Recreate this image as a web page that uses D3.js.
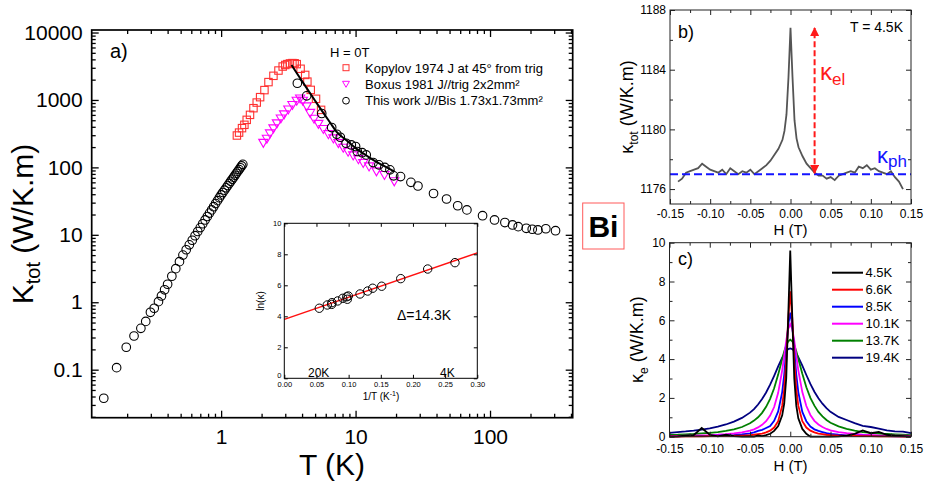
<!DOCTYPE html>
<html>
<head>
<meta charset="utf-8">
<script src="https://cdn.jsdelivr.net/npm/d3@7"></script>
<style>
body { margin: 0; background: #fff; }
svg text { font-family: "Liberation Sans", Arial, Helvetica, sans-serif; }
</style>
</head>
<body>
<svg id="fig" width="926" height="484"></svg>
<script>
// ---- panel a : K_tot(T) ----
const kopT = [1.31,1.36,1.43,1.49,1.55,1.64,1.74,1.84,1.95,2.1,2.25,2.45,2.67,2.87,3.0,3.11,3.25,3.39,3.52,3.65,3.9,4.22,4.38,4.64,5.08,5.54];
const kopK = [297,328,382,428,507,601,755,915,1100,1400,1840,2280,2730,3130,3300,3400,3480,3520,3500,3400,2900,2350,1870,1410,1040,713];

const boxT = [2.06,2.19,2.31,2.45,2.6,2.78,2.94,3.16,3.39,3.65,3.87,4.05,4.33,4.59,4.91,5.29,5.76,6.28,6.84,7.45,8.1,8.8,9.6,10.5,11.4,12.6,14.3,16.4,19.4];
const boxK = [230,265,318,378,448,530,610,720,840,970,1050,970,800,640,525,440,370,310,268,228,195,170,150,132,116,103,87,77,62];

const workT = [0.134,0.167,0.197,0.225,0.253,0.275,0.298,0.318,0.342,0.36,0.38,0.40,0.43,0.46,0.49,0.52,0.55,0.58,0.61,0.64,0.67,0.70,0.73,0.76,0.79,0.82,0.85,0.88,0.91,0.94,0.97,1.00,1.03,1.06,1.09,1.12,1.15,1.18,1.21,1.24,1.27,1.30,1.33,1.36,1.39,1.42,1.45,
  3.69,4.33,5.6,6.64,7.25,7.7,8.5,9.3,10,10.3,11.2,12,13.5,14.9,16.5,18,19.2,21.6,25.8,29.1,38,47.5,57.5,67.3,88,108,129,147,162,186,206,227,260,307];
const workK = [0.0377,0.107,0.215,0.316,0.41,0.52,0.71,0.815,1.02,1.24,1.53,1.85,2.43,3.15,4.0,5.0,6.0,7.1,8.3,9.7,11.2,12.8,14.6,16.6,18.7,21.0,23.4,26.1,29.1,32.1,35.5,39.0,42.4,45.9,49.7,53.7,57.8,62.2,66.8,71.5,76.5,81.7,87.1,92.7,98.6,105,111,
  1770,1150,630,390,310,280,228,215,204,172,165,153,118,109,100,92,75,73,60,53,41,34,27,23.4,19.2,16.6,15.2,14.0,13.2,12.5,12.1,11.8,12.3,11.5];

const fitT = [3.34,3.7,4.28,5,5.56,6.5,7.2,8.5,10,12,13.5,16,19.4];
const fitK = [3300,2410,1550,975,713,455,340,255,193,151,129,107,87];

const mainTicksX = [1, 10, 100];
const mainLabelsX = ["1", "10", "100"];
const mainTicksY = [0.1, 1, 10, 100, 1000, 10000];
const mainLabelsY = ["0.1", "1", "10", "100", "1000", "10000"];
const legendA = ["Kopylov 1974 J at 45\u00b0 from trig", "Boxus 1981 J//trig 2x2mm\u00b2", "This work J//Bis 1.73x1.73mm\u00b2"];

// inset : ln(kappa) vs 1/T
const insX = [0.0544,0.0668,0.0737,0.074,0.083,0.0908,0.097,0.0995,0.098,0.1177,0.1296,0.1374,0.1514,0.181,0.2229,0.2653];
const insY = [4.52,4.73,4.77,4.88,4.99,5.16,5.26,5.31,5.10,5.44,5.63,5.81,5.94,6.43,7.05,7.46];
const insLineX = [0, 0.3];
const insLineY = [3.8, 8.09];
const insTicksX = [0,0.05,0.10,0.15,0.20,0.25,0.30];
const insTicksY = [0,2,4,6,8,10];

// ---- panel b : K_tot(H) at 4.5K ----
const bH = [-0.14,-0.135,-0.13,-0.125,-0.12,-0.115,-0.11,-0.105,-0.10,-0.095,-0.09,-0.085,-0.08,-0.075,-0.07,-0.065,-0.06,-0.055,-0.05,-0.045,-0.04,-0.035,-0.03,-0.025,-0.02,-0.015,-0.01,-0.0075,-0.005,-0.0025,0,0.0025,0.005,0.0075,0.01,0.015,0.02,0.025,0.03,0.035,0.04,0.045,0.05,0.055,0.06,0.065,0.07,0.075,0.08,0.085,0.09,0.095,0.10,0.105,0.11,0.115,0.12,0.125,0.13,0.135,0.14];
const bK = [1176.5,1176.7,1177.1,1177.2,1177.3,1177.4,1177.7,1177.5,1177.3,1177.2,1177.1,1177.3,1177.0,1177.4,1177.2,1177.0,1177.2,1177.1,1177.3,1177.0,1177.2,1177.4,1177.6,1177.9,1178.3,1178.7,1179.3,1179.9,1181.0,1183.5,1186.8,1183.5,1180.6,1179.4,1178.8,1178.2,1177.7,1177.4,1177.1,1176.9,1176.9,1176.7,1176.8,1176.6,1176.9,1177.0,1177.1,1177.2,1177.1,1177.5,1177.4,1177.6,1177.3,1177.4,1177.2,1177.1,1177.0,1177.2,1176.8,1176.5,1176.0];
const bPhonon = 1177;
const bArrowH = 0.03, bArrowTop = 1186.8;
const hTicks = [-0.15,-0.10,-0.05,0,0.05,0.10,0.15];
const hMinor = [-0.125,-0.075,-0.025,0.025,0.075,0.125];
const bTicksY = [1176,1180,1184,1188];
const bMinorY = [1178,1182,1186];

// ---- panel c : K_e(H) ----
const cH = [-0.15,-0.14,-0.13,-0.12,-0.11,-0.10,-0.09,-0.08,-0.07,-0.06,-0.05,-0.045,-0.04,-0.035,-0.03,-0.025,-0.02,-0.015,-0.01,-0.0075,-0.005,-0.0025,0,0.0025,0.005,0.0075,0.01,0.015,0.02,0.025,0.03,0.035,0.04,0.045,0.05,0.06,0.07,0.08,0.09,0.10,0.11,0.12,0.13,0.14,0.15];
const c194 = [0.20,0.24,0.27,0.31,0.36,0.43,0.52,0.63,0.78,0.97,1.24,1.42,1.66,1.94,2.28,2.68,3.14,3.62,4.08,4.27,4.42,4.52,4.55,4.52,4.43,4.29,4.10,3.66,3.18,2.72,2.32,1.98,1.70,1.47,1.28,1.02,0.86,0.70,0.56,0.50,0.42,0.33,0.27,0.26,0.19];
const c137 = [0.09,0.10,0.12,0.14,0.17,0.20,0.24,0.30,0.38,0.50,0.69,0.83,1.00,1.23,1.54,1.95,2.50,3.20,4.00,4.39,4.71,4.92,5.00,4.92,4.72,4.40,4.02,3.24,2.55,2.00,1.60,1.28,1.05,0.86,0.72,0.53,0.40,0.31,0.24,0.20,0.16,0.14,0.12,0.10,0.08];
const c101 = [0.04,0.04,0.05,0.06,0.07,0.08,0.10,0.13,0.17,0.22,0.31,0.38,0.48,0.61,0.80,1.09,1.53,2.26,3.42,4.17,4.94,5.56,5.80,5.56,4.94,4.17,3.42,2.30,1.58,1.12,0.82,0.63,0.50,0.40,0.33,0.24,0.18,0.14,0.11,0.09,0.07,0.06,0.05,0.05,0.04];
const c85 = [0.02,0.02,0.03,0.03,0.04,0.04,0.05,0.06,0.08,0.12,0.17,0.22,0.30,0.35,0.45,0.55,0.82,1.30,2.30,3.20,4.43,5.76,6.40,5.76,4.43,3.20,2.30,1.28,0.80,0.52,0.38,0.30,0.24,0.18,0.14,0.10,0.07,0.06,0.05,0.04,0.03,0.03,0.02,0.02,0.02];
const c66 = [0.01,0.01,0.02,0.02,0.02,0.03,0.03,0.04,0.05,0.06,0.08,0.10,0.13,0.16,0.22,0.31,0.47,0.80,1.60,2.44,3.90,6.09,7.50,6.09,3.90,2.44,1.60,0.80,0.47,0.31,0.22,0.16,0.13,0.10,0.08,0.06,0.05,0.04,0.03,0.03,0.02,0.02,0.02,0.01,0.01];
const c45 = [0.00,0.02,0.05,0.08,0.45,0.10,0.02,0.10,0.03,0.00,0.02,0.00,0.06,0.03,0.08,0.15,0.30,0.55,1.10,1.70,3.00,6.20,9.60,6.20,3.00,1.60,0.95,0.40,0.15,0.00,0.00,0.00,0.00,0.00,0.00,0.02,0.05,0.15,0.32,0.18,0.25,0.10,0.05,0.03,0.00];
const cNames = ["4.5K","6.6K","8.5K","10.1K","13.7K","19.4K"];
const cSeries = [c45, c66, c85, c101, c137, c194];
const cColors = ["#000000","#ff0000","#0000ff","#ff00ff","#008000","#000080"];
const cTicksY = [0,2,4,6,8,10];
const cMinorY = [1,3,5,7,9];

const svg = d3.select('#fig');

// tick boxes: inward ticks on the four sides, labels on bottom and left
function axesBox(g, x, y, o) {
  const [yb, yt] = y.range(), [xl, xr] = x.range();
  const put = (axis, tr, vals, size, fmt, pad, fs) => {
    const a = g.append('g').attr('transform', tr)
      .call(axis.tickValues(vals).tickSize(-size).tickPadding(pad || 3)
        .tickFormat(fmt || (() => '')));
    a.select('.domain').remove();
    a.attr('font-family', null).attr('font-size', fs || null);
    a.selectAll('line').attr('stroke', o.color).attr('stroke-width', o.tw);
    a.selectAll('text').attr('fill', '#000');
    return a;
  };
  if (o.xMinor) {
    put(d3.axisBottom(x), `translate(0,${yb})`, o.xMinor, o.minor);
    put(d3.axisTop(x), `translate(0,${yt})`, o.xMinor, o.minor);
  }
  if (o.yMinor) {
    put(d3.axisLeft(y), `translate(${xl},0)`, o.yMinor, o.minor);
    put(d3.axisRight(y), `translate(${xr},0)`, o.yMinor, o.minor);
  }
  put(d3.axisBottom(x), `translate(0,${yb})`, o.xMajor, o.major, o.xFmt, o.xPad, o.fs);
  put(d3.axisTop(x), `translate(0,${yt})`, o.xMajor, o.major);
  const ly = put(d3.axisLeft(y), `translate(${xl},0)`, o.yMajor, o.major, o.yFmt, o.yPad, o.fsY || o.fs);
  put(d3.axisRight(y), `translate(${xr},0)`, o.yMajor, o.major);
  g.append('rect').attr('x', xl).attr('y', yt).attr('width', xr - xl).attr('height', yb - yt)
    .attr('fill', 'none').attr('stroke', o.color).attr('stroke-width', o.sw);
  return ly;
}

function logMinor(dom) {
  const out = [];
  for (let k = -2; k <= 4; k++)
    for (let m = 2; m <= 9; m++) {
      const v = m * Math.pow(10, k);
      if (v > dom[0] && v < dom[1]) out.push(v);
    }
  return out;
}

const tri = 'M-4.6,-3.6L4.6,-3.6L0,4.4Z';

// ================= panel a =================
const xA = d3.scaleLog().domain([0.109, 412]).range([91.7, 572.7]);
const yA = d3.scaleLog().domain([0.0194, 10900]).range([417.7, 30]);
const gA = svg.append('g');

gA.append('g').selectAll('rect').data(d3.zip(kopT, kopK)).join('rect')
  .attr('x', d => xA(d[0]) - 3.7).attr('y', d => yA(d[1]) - 3.7)
  .attr('width', 7.4).attr('height', 7.4)
  .attr('fill', 'none').attr('stroke', '#ff3030').attr('stroke-width', 1.1);

gA.append('g').selectAll('path').data(d3.zip(boxT, boxK)).join('path')
  .attr('transform', d => `translate(${xA(d[0])},${yA(d[1])})`).attr('d', tri)
  .attr('fill', 'none').attr('stroke', '#ff00ff').attr('stroke-width', 1.1);

gA.append('g').selectAll('circle').data(d3.zip(workT, workK)).join('circle')
  .attr('cx', d => xA(d[0])).attr('cy', d => yA(d[1])).attr('r', 4.3)
  .attr('fill', 'none').attr('stroke', '#000').attr('stroke-width', 1.1);

gA.append('path').datum(d3.zip(fitT, fitK))
  .attr('d', d3.line().x(d => xA(d[0])).y(d => yA(d[1])).curve(d3.curveMonotoneX))
  .attr('fill', 'none').attr('stroke', '#000').attr('stroke-width', 2);

axesBox(gA, xA, yA, {
  xMajor: mainTicksX, xMinor: logMinor(xA.domain()),
  yMajor: mainTicksY, yMinor: logMinor(yA.domain()),
  major: 7, minor: 4, color: '#000', tw: 1.3, sw: 1.7,
  xFmt: (d, i) => mainLabelsX[i], yFmt: (d, i) => mainLabelsY[i],
  xPad: 11, yPad: 9, fs: 21
});

gA.append('text').attr('x', 110).attr('y', 58).attr('font-size', 20).text('a)');

// legend
const legA = gA.append('g').attr('font-size', 13);
legA.append('text').attr('x', 330).attr('y', 56.7).text('H = 0T');
legA.append('rect').attr('x', 343).attr('y', 64.7).attr('width', 6).attr('height', 6)
  .attr('fill', 'none').attr('stroke', '#ff3030');
legA.append('path').attr('transform', 'translate(346,84) scale(0.75)').attr('d', tri)
  .attr('fill', 'none').attr('stroke', '#ff00ff').attr('stroke-width', 1.3);
legA.append('circle').attr('cx', 346).attr('cy', 100.7).attr('r', 3.4)
  .attr('fill', 'none').attr('stroke', '#000');
legendA.forEach((s, i) => legA.append('text').attr('x', 365).attr('y', 72.7 + i * 16.2).text(s));

// axis titles
gA.append('text').attr('x', 332).attr('y', 475).attr('text-anchor', 'middle')
  .attr('font-size', 30).text('T (K)');
const tA = gA.append('text').attr('transform', 'translate(33,224) rotate(-90)')
  .attr('text-anchor', 'middle').attr('font-size', 30);
tA.append('tspan').text('K');
tA.append('tspan').attr('font-size', 20).attr('dy', 7).text('tot');
tA.append('tspan').attr('dy', -7).text(' (W/K.m)');

// inset
const xI = d3.scaleLinear().domain([0, 0.3]).range([284.3, 477.3]);
const yI = d3.scaleLinear().domain([0, 10]).range([378.3, 223.3]);
const gI = svg.append('g');
gI.append('rect').attr('x', 284.3).attr('y', 223.3).attr('width', 193).attr('height', 155).attr('fill', '#fff');
gI.append('path').datum(d3.zip(insLineX, insLineY))
  .attr('d', d3.line().x(d => xI(d[0])).y(d => yI(d[1])))
  .attr('stroke', '#ff1010').attr('stroke-width', 1.5);
gI.append('g').selectAll('circle').data(d3.zip(insX, insY)).join('circle')
  .attr('cx', d => xI(d[0])).attr('cy', d => yI(d[1])).attr('r', 4.2)
  .attr('fill', 'none').attr('stroke', '#000').attr('stroke-width', 1);
const insLeft = axesBox(gI, xI, yI, {
  xMajor: insTicksX, yMajor: insTicksY, major: 3.5, color: '#000', tw: 1, sw: 1,
  xFmt: d => d.toFixed(2), yFmt: d => String(d), xPad: 3, yPad: 3, fs: 7.5
});
// lift the "0" of the inset's y axis clear of the "0.00" below it
insLeft.selectAll('text').filter(d => d === 0).attr('dy', '-0.1em');
gI.append('text').attr('x', 397).attr('y', 320).attr('font-size', 14).text('\u0394=14.3K');
gI.append('text').attr('x', 308).attr('y', 376.5).attr('font-size', 12).text('20K');
gI.append('text').attr('x', 440).attr('y', 376.5).attr('font-size', 12).text('4K');
const tI = gI.append('text').attr('x', 381).attr('y', 399.5).attr('text-anchor', 'middle').attr('font-size', 10);
tI.append('tspan').text('1/T (K');
tI.append('tspan').attr('font-size', 7).attr('dy', -4).text('-1');
tI.append('tspan').attr('dy', 4).text(')');
gI.append('text').attr('transform', 'translate(264,301) rotate(-90)')
  .attr('text-anchor', 'middle').attr('font-size', 10).text('ln(\u03ba)');

// Bi label
svg.append('rect').attr('x', 582.7).attr('y', 203).attr('width', 41.3).attr('height', 46)
  .attr('fill', '#fff').attr('stroke', '#ff5a5a').attr('stroke-width', 1);
svg.append('text').attr('x', 603.4).attr('y', 236.7).attr('text-anchor', 'middle')
  .attr('font-size', 30).attr('font-weight', 'bold').text('Bi');

// ================= panel b =================
const xB = d3.scaleLinear().domain([-0.15, 0.15]).range([670, 911]);
const yB = d3.scaleLinear().domain([1175, 1188]).range([204, 10]);
const gB = svg.append('g');

gB.append('path').datum(d3.zip(bH, bK))
  .attr('d', d3.line().x(d => xB(d[0])).y(d => yB(d[1])))
  .attr('fill', 'none').attr('stroke', '#555').attr('stroke-width', 1.8);
gB.append('line').attr('x1', xB(-0.15)).attr('x2', xB(0.15))
  .attr('y1', yB(bPhonon)).attr('y2', yB(bPhonon))
  .attr('stroke', '#1414ff').attr('stroke-width', 2).attr('stroke-dasharray', '8,4');

const defs = svg.append('defs');
defs.append('marker').attr('id', 'ah').attr('viewBox', '0 0 10 10').attr('refX', 9).attr('refY', 5)
  .attr('markerWidth', 9).attr('markerHeight', 9).attr('markerUnits', 'userSpaceOnUse')
  .attr('orient', 'auto-start-reverse')
  .append('path').attr('d', 'M0,0L10,5L0,10Z').attr('fill', '#ff1a1a');
gB.append('line').attr('x1', xB(bArrowH)).attr('x2', xB(bArrowH))
  .attr('y1', yB(bPhonon) - 1).attr('y2', yB(bArrowTop))
  .attr('stroke', '#ff1a1a').attr('stroke-width', 2).attr('stroke-dasharray', '6,3')
  .attr('marker-start', 'url(#ah)').attr('marker-end', 'url(#ah)');

axesBox(gB, xB, yB, {
  xMajor: hTicks, xMinor: hMinor, yMajor: bTicksY, yMinor: bMinorY,
  major: 5, minor: 3, color: '#222', tw: 1, sw: 1,
  xFmt: d => d.toFixed(2), yFmt: d => String(d), xPad: 5, yPad: 4, fs: 12
});
gB.append('text').attr('x', 678).attr('y', 38).attr('font-size', 18).text('b)');
gB.append('text').attr('x', 903).attr('y', 31.7).attr('text-anchor', 'end').attr('font-size', 14).text('T = 4.5K');
const kel = gB.append('text').attr('x', 820).attr('y', 80).attr('fill', '#ff1a1a').attr('font-size', 24);
kel.append('tspan').text('\u03ba');
kel.append('tspan').attr('font-size', 17).attr('dy', 5).text('el');
const kph = gB.append('text').attr('x', 877).attr('y', 163).attr('fill', '#1414ff').attr('font-size', 22);
kph.append('tspan').text('\u03ba');
kph.append('tspan').attr('font-size', 17).attr('dy', 4).text('ph');
gB.append('text').attr('x', 790.5).attr('y', 235).attr('text-anchor', 'middle').attr('font-size', 15).text('H (T)');
const tB = gB.append('text').attr('transform', 'translate(633,107) rotate(-90)')
  .attr('text-anchor', 'middle').attr('font-size', 18);
tB.append('tspan').text('\u03ba');
tB.append('tspan').attr('font-size', 12).attr('dy', 5).text('tot');
tB.append('tspan').attr('dy', -5).text(' (W/K.m)');

// ================= panel c =================
const xC = d3.scaleLinear().domain([-0.15, 0.15]).range([669.5, 911]);
const yC = d3.scaleLinear().domain([0, 10]).range([436.7, 242.7]);
const gC = svg.append('g');
const lineC = d3.line().x((d, i) => xC(cH[i])).y(d => yC(d));
[5, 4, 3, 2, 1, 0].forEach(k => {
  gC.append('path').datum(cSeries[k]).attr('d', lineC)
    .attr('fill', 'none').attr('stroke', cColors[k]).attr('stroke-width', 1.8);
});
axesBox(gC, xC, yC, {
  xMajor: hTicks, xMinor: hMinor, yMajor: cTicksY, yMinor: cMinorY,
  major: 5, minor: 3, color: '#222', tw: 1, sw: 1,
  xFmt: d => d.toFixed(2), yFmt: d => String(d), xPad: 8, yPad: 4, fs: 12
});
gC.append('text').attr('x', 678).attr('y', 265).attr('font-size', 18).text('c)');
const legC = gC.append('g').attr('font-size', 13);
cNames.forEach((s, i) => {
  const yy = 272.7 + i * 17;
  legC.append('line').attr('x1', 832).attr('x2', 863).attr('y1', yy).attr('y2', yy)
    .attr('stroke', cColors[i]).attr('stroke-width', 2);
  legC.append('text').attr('x', 865.5).attr('y', yy + 4.6).text(s);
});
gC.append('text').attr('x', 790.5).attr('y', 471).attr('text-anchor', 'middle').attr('font-size', 15).text('H (T)');
const tC = gC.append('text').attr('transform', 'translate(643,339.7) rotate(-90)')
  .attr('text-anchor', 'middle').attr('font-size', 18);
tC.append('tspan').text('\u03ba');
tC.append('tspan').attr('font-size', 12).attr('dy', 5).text('e');
tC.append('tspan').attr('dy', -5).text(' (W/K.m)');
</script>
</body>
</html>
